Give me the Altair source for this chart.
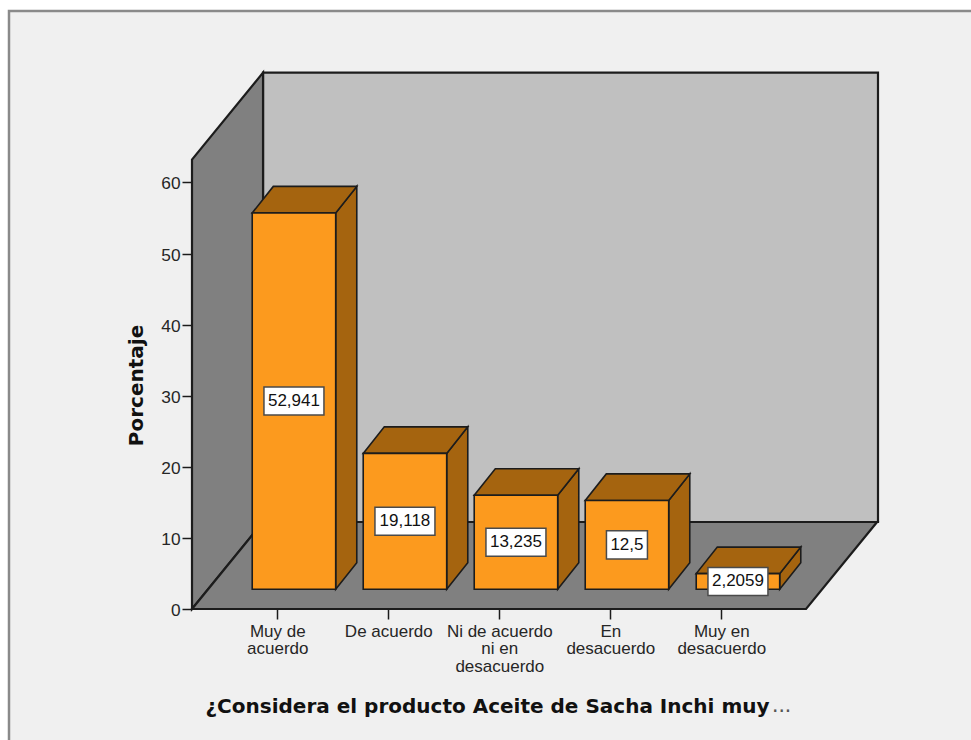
import json
import altair as alt
import pandas as pd

# Survey results, percent of respondents per answer
categories = [
    ["Muy de", "acuerdo"],
    ["De acuerdo"],
    ["Ni de acuerdo", "ni en", "desacuerdo"],
    ["En", "desacuerdo"],
    ["Muy en", "desacuerdo"],
]
percentages = [52.941, 19.118, 13.235, 12.5, 2.2059]
y_ticks = [0, 10, 20, 30, 40, 50, 60]

# Oblique projection: horizontal unit = one category, vertical unit = one percent
X_MIN, X_MAX = -0.7685, 5.4117
Y_MAX = 75.39
ROOM_DX, ROOM_DY = 0.64, 12.24     # depth of the room
ROOM_W = 5.532                     # floor width at the front
WALL_H = 63.2                      # wall height
BAR_SHIFT, BAR_BASE = 0.15, 2.77   # where bars stand on the floor
BAR_HALF = 0.376
BAR_DX, BAR_DY = 0.19, 3.73        # depth of a bar

FRAME_BG, BACK_WALL, SIDE_WALL = "#F0F0F0", "#C0C0C0", "#808080"
BAR_FRONT, BAR_DARK, INK = "#FC9A1E", "#A5640F", "#1C1C1C"
TEXT = "#262626"

x_scale = alt.Scale(domain=[X_MIN, X_MAX], nice=False, zero=False)
y_scale = alt.Scale(domain=[0, Y_MAX], nice=False, zero=False)


def xq(axis=None):
    return alt.X("x:Q", scale=x_scale, axis=axis, title=None)


def yq(axis=None):
    return alt.Y("y:Q", scale=y_scale, axis=axis, title=None)


def ribbon(points, **mark):
    """Filled outline from (x, lower, upper) rows, one group per shape."""
    frame = pd.DataFrame(points, columns=["x", "y", "y2", "g"])
    return alt.Chart(frame).mark_area(**mark).encode(
        x=xq(), y=yq(), y2="y2:Q", detail="g:N"
    )


# Room: frame, back wall, left wall, floor
frame_box = alt.Chart(pd.DataFrame({"a": [0]})).mark_rect(
    fill=FRAME_BG, stroke="#8A8A8A", strokeWidth=2.5
).encode(
    x=alt.value(-183), x2=alt.value(900), y=alt.value(-62), y2=alt.value(720)
)

x0 = X_MIN
back = pd.DataFrame([{
    "x": x0 + ROOM_DX, "x2": X_MAX, "y": ROOM_DY, "y2": ROOM_DY + WALL_H
}])
back_wall = alt.Chart(back).mark_rect(
    fill=BACK_WALL, stroke=INK, strokeWidth=2.2
).encode(x=xq(), x2="x2:Q", y=yq(), y2="y2:Q")

left_wall = ribbon(
    [(x0, 0, WALL_H, 0), (x0 + ROOM_DX, ROOM_DY, ROOM_DY + WALL_H, 0)],
    fill=SIDE_WALL, stroke=INK, strokeWidth=2.2,
)
floor = ribbon(
    [
        (x0, 0, 0, 0),
        (x0 + ROOM_DX, 0, ROOM_DY, 0),
        (x0 + ROOM_W, 0, ROOM_DY, 0),
        (x0 + ROOM_W + ROOM_DX, ROOM_DY, ROOM_DY, 0),
    ],
    fill=SIDE_WALL, stroke=INK, strokeWidth=2.2,
)

# Bars: each one has a front, a top and a right-hand face
fronts, tops, sides, boxes, labels = [], [], [], [], []
for i, v in enumerate(percentages):
    left = i + BAR_SHIFT - BAR_HALF
    right = i + BAR_SHIFT + BAR_HALF
    top = BAR_BASE + v
    fronts.append({"x": left, "x2": right, "y": BAR_BASE, "y2": top})
    tops += [
        (left, top, top, i),
        (left + BAR_DX, top, top + BAR_DY, i),
        (right, top, top + BAR_DY, i),
        (right + BAR_DX, top + BAR_DY, top + BAR_DY, i),
    ]
    sides += [
        (right, BAR_BASE, top, i),
        (right + BAR_DX, BAR_BASE + BAR_DY, top + BAR_DY, i),
    ]
    text = str(v).replace(".", ",")
    mid = BAR_BASE + v / 2
    half_w = (9.5 * len(text) + 3) / 111 / 2
    boxes.append({
        "x": i + BAR_SHIFT - half_w, "x2": i + BAR_SHIFT + half_w,
        "y": mid - 1.97, "y2": mid + 1.97,
    })
    labels.append({"x": i + BAR_SHIFT, "y": mid, "t": text})

bar_fronts = alt.Chart(pd.DataFrame(fronts)).mark_rect(
    fill=BAR_FRONT, stroke=INK, strokeWidth=1.6
).encode(x=xq(), x2="x2:Q", y=yq(), y2="y2:Q")
bar_tops = ribbon(tops, fill=BAR_DARK, stroke=INK, strokeWidth=1.6)
bar_sides = ribbon(sides, fill=BAR_DARK, stroke=INK, strokeWidth=1.6)

value_boxes = alt.Chart(pd.DataFrame(boxes)).mark_rect(
    fill="white", stroke="#4A4A4A", strokeWidth=1.5
).encode(x=xq(), x2="x2:Q", y=yq(), y2="y2:Q")
value_text = alt.Chart(pd.DataFrame(labels)).mark_text(
    font="Liberation Sans", fontSize=17, color="#111111", baseline="middle"
).encode(x=xq(), y=yq(), text="t:N")

# Axes carry the ticks, category labels and titles
label_expr = json.dumps(categories) + "[datum.value]"
x_axis = alt.Axis(
    values=list(range(len(categories))), labelExpr=label_expr, labelAngle=0,
    domain=False, grid=False, tickSize=10, tickWidth=1.5, tickColor=INK,
    labelFont="Liberation Sans", labelFontSize=17, labelColor=TEXT,
    labelLineHeight=17.5, labelPadding=4, labelBaseline="top", labelOverlap=False,
    title="¿Considera el producto Aceite de Sacha Inchi muy",
    titleFont="DejaVu Sans", titleFontSize=20, titleFontWeight="bold",
    titleColor="#111111", titleAlign="left", titleAnchor="start",
    titleBaseline="alphabetic", titleX=13, titleY=103, zindex=1,
)
y_axis = alt.Axis(
    values=y_ticks, domain=False, grid=False, tickSize=10, tickWidth=1.5,
    tickColor=INK, labelFont="Liberation Sans", labelFontSize=17.3,
    labelColor=TEXT, labelPadding=2, labelOffset=1.5,
    title="Porcentaje", titleFont="DejaVu Sans", titleFontSize=20,
    titleFontWeight="bold", titleColor="#111111", titleAlign="center",
    titleBaseline="alphabetic", titleX=-50, titleY=312, zindex=1,
)
axes = alt.Chart(pd.DataFrame({"x": [0.0], "y": [0.0]})).mark_point(opacity=0).encode(
    x=alt.X("x:Q", scale=x_scale, axis=x_axis),
    y=alt.Y("y:Q", scale=y_scale, axis=y_axis),
)

ellipsis = alt.Chart(pd.DataFrame({"t": ["..."]})).mark_text(
    font="Liberation Sans", fontSize=23, color="#555555", align="left",
    baseline="alphabetic"
).encode(x=alt.value(580), y=alt.value(639), text="t:N")

chart = alt.layer(
    frame_box, back_wall, left_wall, floor, axes,
    bar_sides, bar_tops, bar_fronts, value_boxes, value_text, ellipsis,
).resolve_axis(x="independent", y="independent").properties(
    width=686, height=536,
    padding={"left": 192, "top": 73, "right": 93, "bottom": 131},
    autosize=alt.AutoSizeParams(type="none"),
    background="white",
).configure_view(stroke=None)

chart.save("out.html", embed_options={"renderer": "svg", "actions": False})
